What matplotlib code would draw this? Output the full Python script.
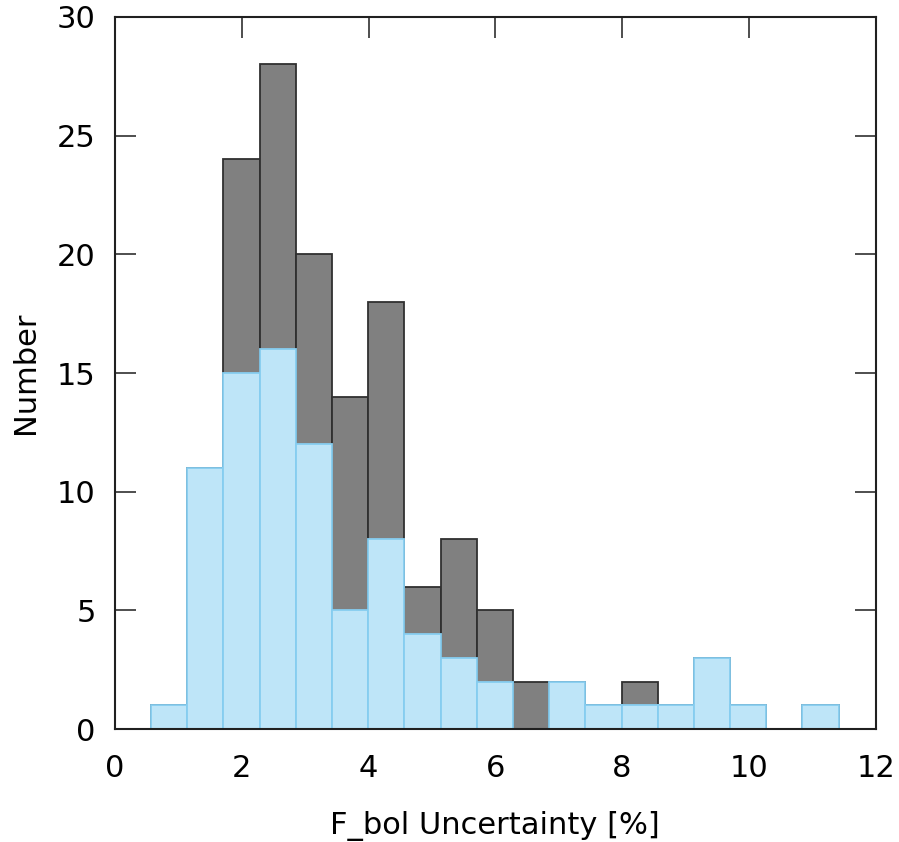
import numpy as np
import matplotlib
matplotlib.use("Agg")
import matplotlib.pyplot as plt

# histogram bins: left edge of first bin and common width (percent)
bin_start = 0.568
bin_width = 0.571
n_bins = 19

# counts per bin: full sample (grey) and subset (light blue)
counts_all = [1, 11, 24, 28, 20, 14, 18, 6, 8, 5, 2, 2, 1, 2, 1, 3, 1, 0, 1]
counts_sub = [1, 11, 15, 16, 12, 5, 8, 4, 3, 2, 0, 2, 1, 1, 1, 3, 1, 0, 1]

edges = bin_start + bin_width * np.arange(n_bins)

plt.rcParams['font.family'] = ['DejaVu Sans']
fig = plt.figure(figsize=(8.99, 8.42), dpi=100)
ax = fig.add_axes([0.128, 0.134, 0.846, 0.846])
ax.set_axisbelow(True)  # ticks go under the bars

ax.bar(edges, counts_all, width=bin_width, align='edge',
       color='#808080', edgecolor='#303030', linewidth=1.3)
ax.bar(edges, counts_sub, width=bin_width, align='edge',
       color='#bee5f8', edgecolor='#86cdf0', linewidth=1.3)

ax.set_xlim(0, 12)
ax.set_ylim(0, 30)
ax.set_xticks(np.arange(0, 13, 2))
ax.set_yticks(np.arange(0, 31, 5))
ax.tick_params(direction='in', length=15, width=1.3, color='#404040',
               top=True, right=True, labelsize=22)
ax.tick_params(axis='x', pad=18)
ax.tick_params(axis='y', pad=14)
for s in ax.spines.values():
    s.set_linewidth(1.5)
    s.set_color('#202020')

ax.set_xlabel("F_bol Uncertainty [%]", fontsize=22, labelpad=20)
ax.set_ylabel("Number", fontsize=22, labelpad=12)

fig.savefig("out.png", dpi=100)
